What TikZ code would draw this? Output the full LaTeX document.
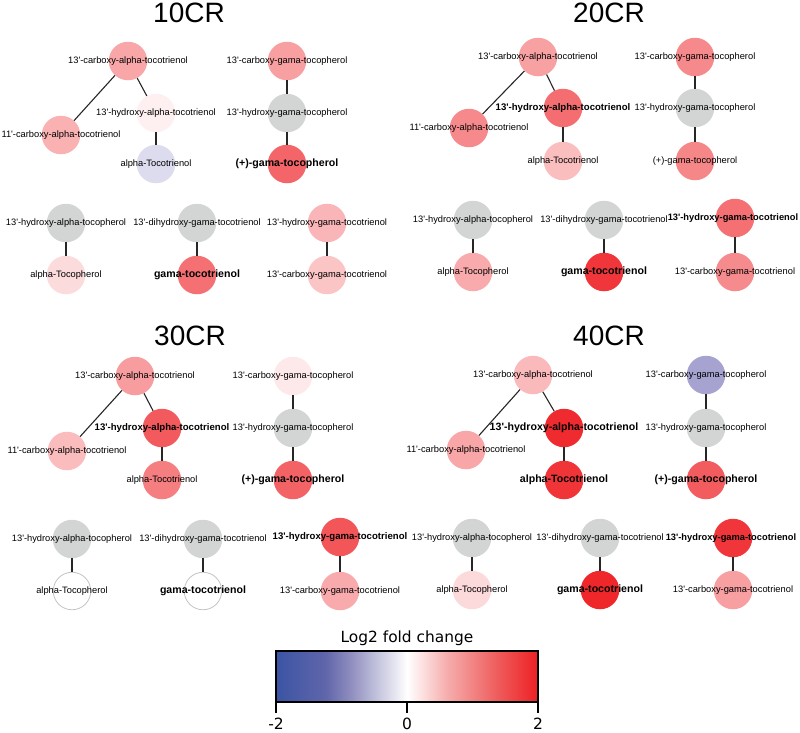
\documentclass[tikz,border=0pt]{standalone}
\usepackage{fontspec}
\setmainfont{Liberation Sans}[Ligatures=TeXOff]
\newfontfamily\barfont{DejaVu Sans}
\definecolor{up}{HTML}{EE2024}
\definecolor{down}{HTML}{3B54A4}
\definecolor{lavlo}{HTML}{DDDCEE}
\definecolor{lavhi}{HTML}{A7A3D0}
\definecolor{nd}{HTML}{D3D4D4}
\definecolor{rule}{HTML}{C4C4C4}
% key colours, blue to red
\definecolor{kb1}{HTML}{6066AA}
\definecolor{kb2}{HTML}{9290C0}
\definecolor{kb3}{HTML}{C0C0DC}
\definecolor{kb4}{HTML}{E4E4F0}
\definecolor{kr1}{HTML}{FCDADA}
\definecolor{kr2}{HTML}{F6AEAE}
\definecolor{kr3}{HTML}{F28484}
\definecolor{kr4}{HTML}{EE5A5A}
\pgfdeclarehorizontalshading{fold}{100bp}{color(0bp)=(down); color(25bp)=(down);
  color(34.5bp)=(kb1); color(39.5bp)=(kb2); color(44bp)=(kb3); color(47.5bp)=(kb4);
  color(50bp)=(white); color(53.5bp)=(kr1); color(57.5bp)=(kr2); color(62.5bp)=(kr3);
  color(67.5bp)=(kr4); color(75bp)=(up); color(100bp)=(up)}
\tikzset{
  met/.style={circle, minimum size=38.5pt, inner sep=0pt, fill=#1},
  miss/.style={circle, minimum size=37.5pt, inner sep=0pt, draw=rule,
               line width=0.8pt, fill=white},
  %
  lab/.style={font=\fontsize{9.3}{10}\selectfont, inner sep=0pt, text=black},
  labb/.style={font=\fontsize{10.6}{12}\selectfont\bfseries, inner sep=0pt,
               text=black},
  labm/.style={labb, font=\fontsize{9.6}{11}\selectfont\bfseries},
  ttl/.style={font=\fontsize{28}{30}\selectfont, anchor=base, inner sep=0pt},
  %
  edge/.style={draw=black!85, line width=1.1pt},
  bartxt/.style={font=\barfont\fontsize{15.4}{17}\selectfont, anchor=base,
                 inner sep=0pt},
  bartick/.style={font=\barfont\fontsize{15.5}{17}\selectfont, anchor=north,
                  inner sep=0pt},
}
\begin{document}
\begin{tikzpicture}[x=1pt, y=-1pt]
\useasboundingbox (0,0) rectangle (800,732);

% =========================================================================
% 10CR
% =========================================================================
\begin{scope}[name prefix=p10-]
  \node[ttl] (ttl) at (189,22) {10CR};

  \node[met=up!40, label={[lab]center:13'-carboxy-alpha-tocotrienol}] (ca) at (128,61) {};
  \node[met=up!35, label={[lab]center:11'-carboxy-alpha-tocotrienol}] (cb) at (61,135) {};
  \node[met=up!7, label={[lab]center:13'-hydroxy-alpha-tocotrienol}] (hat) at (156,113) {};
  \node[met=lavlo, label={[lab]center:alpha-Tocotrienol}] (at) at (156,164) {};

  \node[met=up!43, label={[lab]center:13'-carboxy-gama-tocopherol}] (cgp) at (287,61) {};
  \node[met=nd, label={[lab]center:13'-hydroxy-gama-tocopherol}] (hgp) at (287,113) {};
  \node[met=up!69, label={[labb]center:(+)-gama-tocopherol}] (gp) at (287,164) {};

  \node[met=nd, label={[lab]center:13'-hydroxy-alpha-tocopherol}] (hap) at (66,223) {};
  \node[met=up!16, label={[lab]center:alpha-Tocopherol}] (ap) at (66,275) {};
  \node[met=nd, label={[lab]center:13'-dihydroxy-gama-tocotrienol}] (dgt) at (197,223) {};
  \node[met=up!64, label={[labb]center:gama-tocotrienol}] (gt) at (197,275) {};
  \node[met=up!33, label={[lab]center:13'-hydroxy-gama-tocotrienol}] (hgt) at (327,223) {};
  \node[met=up!26, label={[lab]center:13'-carboxy-gama-tocotrienol}] (cgt) at (327,275) {};

  \draw[edge] (ca) -- (cb);
  \draw[edge] (ca) -- (hat);
  \draw[edge] (hat) -- (at);
  \draw[edge] (cgp) -- (hgp);
  \draw[edge] (hgp) -- (gp);
  \draw[edge] (hap) -- (ap);
  \draw[edge] (dgt) -- (gt);
  \draw[edge] (hgt) -- (cgt);
\end{scope}

% =========================================================================
% 20CR
% =========================================================================
\begin{scope}[name prefix=p20-]
  \node[ttl] (ttl) at (609,22) {20CR};

  \node[met=up!42, label={[lab]center:13'-carboxy-alpha-tocotrienol}] (ca) at (538,57) {};
  \node[met=up!53, label={[lab]center:11'-carboxy-alpha-tocotrienol}] (cb) at (469,128) {};
  \node[met=up!65, label={[labm]center:13'-hydroxy-alpha-tocotrienol}] (hat) at (563,108) {};
  \node[met=up!29, label={[lab]center:alpha-Tocotrienol}] (at) at (563,161) {};

  \node[met=up!53, label={[lab]center:13'-carboxy-gama-tocopherol}] (cgp) at (695,57) {};
  \node[met=nd, label={[lab]center:13'-hydroxy-gama-tocopherol}] (hgp) at (695,108) {};
  \node[met=up!54, label={[lab]center:(+)-gama-tocopherol}] (gp) at (695,161) {};

  \node[met=nd, label={[lab]center:13'-hydroxy-alpha-tocopherol}] (hap) at (473,220) {};
  \node[met=up!38, label={[lab]center:alpha-Tocopherol}] (ap) at (473,272) {};
  \node[met=nd, label={[lab]center:13'-dihydroxy-gama-tocotrienol}] (dgt) at (604,220) {};
  \node[met=up!90, label={[labb]center:gama-tocotrienol}] (gt) at (604,272) {};
  \node[met=up!64, label={[labm, font=\fontsize{9.3}{11}\selectfont\bfseries, xshift=-2pt]center:13'-hydroxy-gama-tocotrienol}] (hgt) at (735,218) {};
  \node[met=up!52, label={[lab]center:13'-carboxy-gama-tocotrienol}] (cgt) at (735,272) {};

  \draw[edge] (ca) -- (cb);
  \draw[edge] (ca) -- (hat);
  \draw[edge] (hat) -- (at);
  \draw[edge] (cgp) -- (hgp);
  \draw[edge] (hgp) -- (gp);
  \draw[edge] (hap) -- (ap);
  \draw[edge] (dgt) -- (gt);
  \draw[edge] (hgt) -- (cgt);
\end{scope}

% =========================================================================
% 30CR
% =========================================================================
\begin{scope}[name prefix=p30-]
  \node[ttl] (ttl) at (190,345) {30CR};

  \node[met=up!44, label={[lab]center:13'-carboxy-alpha-tocotrienol}] (ca) at (135,376) {};
  \node[met=up!30, label={[lab]center:11'-carboxy-alpha-tocotrienol}] (cb) at (67,451) {};
  \node[met=up!74, label={[labm]center:13'-hydroxy-alpha-tocotrienol}] (hat) at (162,428) {};
  \node[met=up!58, label={[lab]center:alpha-Tocotrienol}] (at) at (162,480) {};

  \node[met=up!10, label={[lab]center:13'-carboxy-gama-tocopherol}] (cgp) at (293,376) {};
  \node[met=nd, label={[lab]center:13'-hydroxy-gama-tocopherol}] (hgp) at (293,428) {};
  \node[met=up!70, label={[labb]center:(+)-gama-tocopherol}] (gp) at (293,480) {};

  \node[met=nd, label={[lab]center:13'-hydroxy-alpha-tocopherol}] (hap) at (72,539) {};
  \node[miss, label={[lab]center:alpha-Tocopherol}] (ap) at (72,591) {};
  \node[met=nd, label={[lab]center:13'-dihydroxy-gama-tocotrienol}] (dgt) at (203,539) {};
  \node[miss, label={[labb]center:gama-tocotrienol}] (gt) at (203,591) {};
  \node[met=up!76, label={[labm]center:13'-hydroxy-gama-tocotrienol}] (hgt) at (340,537) {};
  \node[met=up!38, label={[lab]center:13'-carboxy-gama-tocotrienol}] (cgt) at (340,591) {};

  \draw[edge] (ca) -- (cb);
  \draw[edge] (ca) -- (hat);
  \draw[edge] (hat) -- (at);
  \draw[edge] (cgp) -- (hgp);
  \draw[edge] (hgp) -- (gp);
  \draw[edge] (hap) -- (ap);
  \draw[edge] (dgt) -- (gt);
  \draw[edge] (hgt) -- (cgt);
\end{scope}

% =========================================================================
% 40CR
% =========================================================================
\begin{scope}[name prefix=p40-]
  \node[ttl] (ttl) at (609,345) {40CR};

  \node[met=up!31, label={[lab]center:13'-carboxy-alpha-tocotrienol}] (ca) at (533,375) {};
  \node[met=up!40, label={[lab]center:11'-carboxy-alpha-tocotrienol}] (cb) at (466,450) {};
  \node[met=up!95, label={[labb]center:13'-hydroxy-alpha-tocotrienol}] (hat) at (564,428) {};
  \node[met=up!91, label={[labb]center:alpha-Tocotrienol}] (at) at (564,480) {};

  \node[met=lavhi, label={[lab]center:13'-carboxy-gama-tocopherol}] (cgp) at (706,375) {};
  \node[met=nd, label={[lab]center:13'-hydroxy-gama-tocopherol}] (hgp) at (706,428) {};
  \node[met=up!73, label={[labb]center:(+)-gama-tocopherol}] (gp) at (706,480) {};

  \node[met=nd, label={[lab]center:13'-hydroxy-alpha-tocopherol}] (hap) at (472,538) {};
  \node[met=up!17, label={[lab]center:alpha-Tocopherol}] (ap) at (472,590) {};
  \node[met=nd, label={[lab]center:13'-dihydroxy-gama-tocotrienol}] (dgt) at (600,538) {};
  \node[met=up!97, label={[labb]center:gama-tocotrienol}] (gt) at (600,590) {};
  \node[met=up!90, label={[labm, font=\fontsize{9.3}{11}\selectfont\bfseries, xshift=-2pt]center:13'-hydroxy-gama-tocotrienol}] (hgt) at (733,538) {};
  \node[met=up!43, label={[lab]center:13'-carboxy-gama-tocotrienol}] (cgt) at (733,590) {};

  \draw[edge] (ca) -- (cb);
  \draw[edge] (ca) -- (hat);
  \draw[edge] (hat) -- (at);
  \draw[edge] (cgp) -- (hgp);
  \draw[edge] (hgp) -- (gp);
  \draw[edge] (hap) -- (ap);
  \draw[edge] (dgt) -- (gt);
  \draw[edge] (hgt) -- (cgt);
\end{scope}

% =========================================================================
% colour key
% =========================================================================
\node[bartxt] (keyttl) at (407,642) {Log2 fold change};
\shade[shading=fold] (276,651) rectangle (538,702);
\draw[line width=1.5pt] (276,651) rectangle (538,702);
\foreach \x in {276,407,538}
  \draw[line width=2pt] (\x,702) -- (\x,713);
\node[bartick] (kmin) at (276,718) {-2};
\node[bartick] (kmid) at (407,718) {0};
\node[bartick] (kmax) at (538,718) {2};

\end{tikzpicture}
\end{document}
